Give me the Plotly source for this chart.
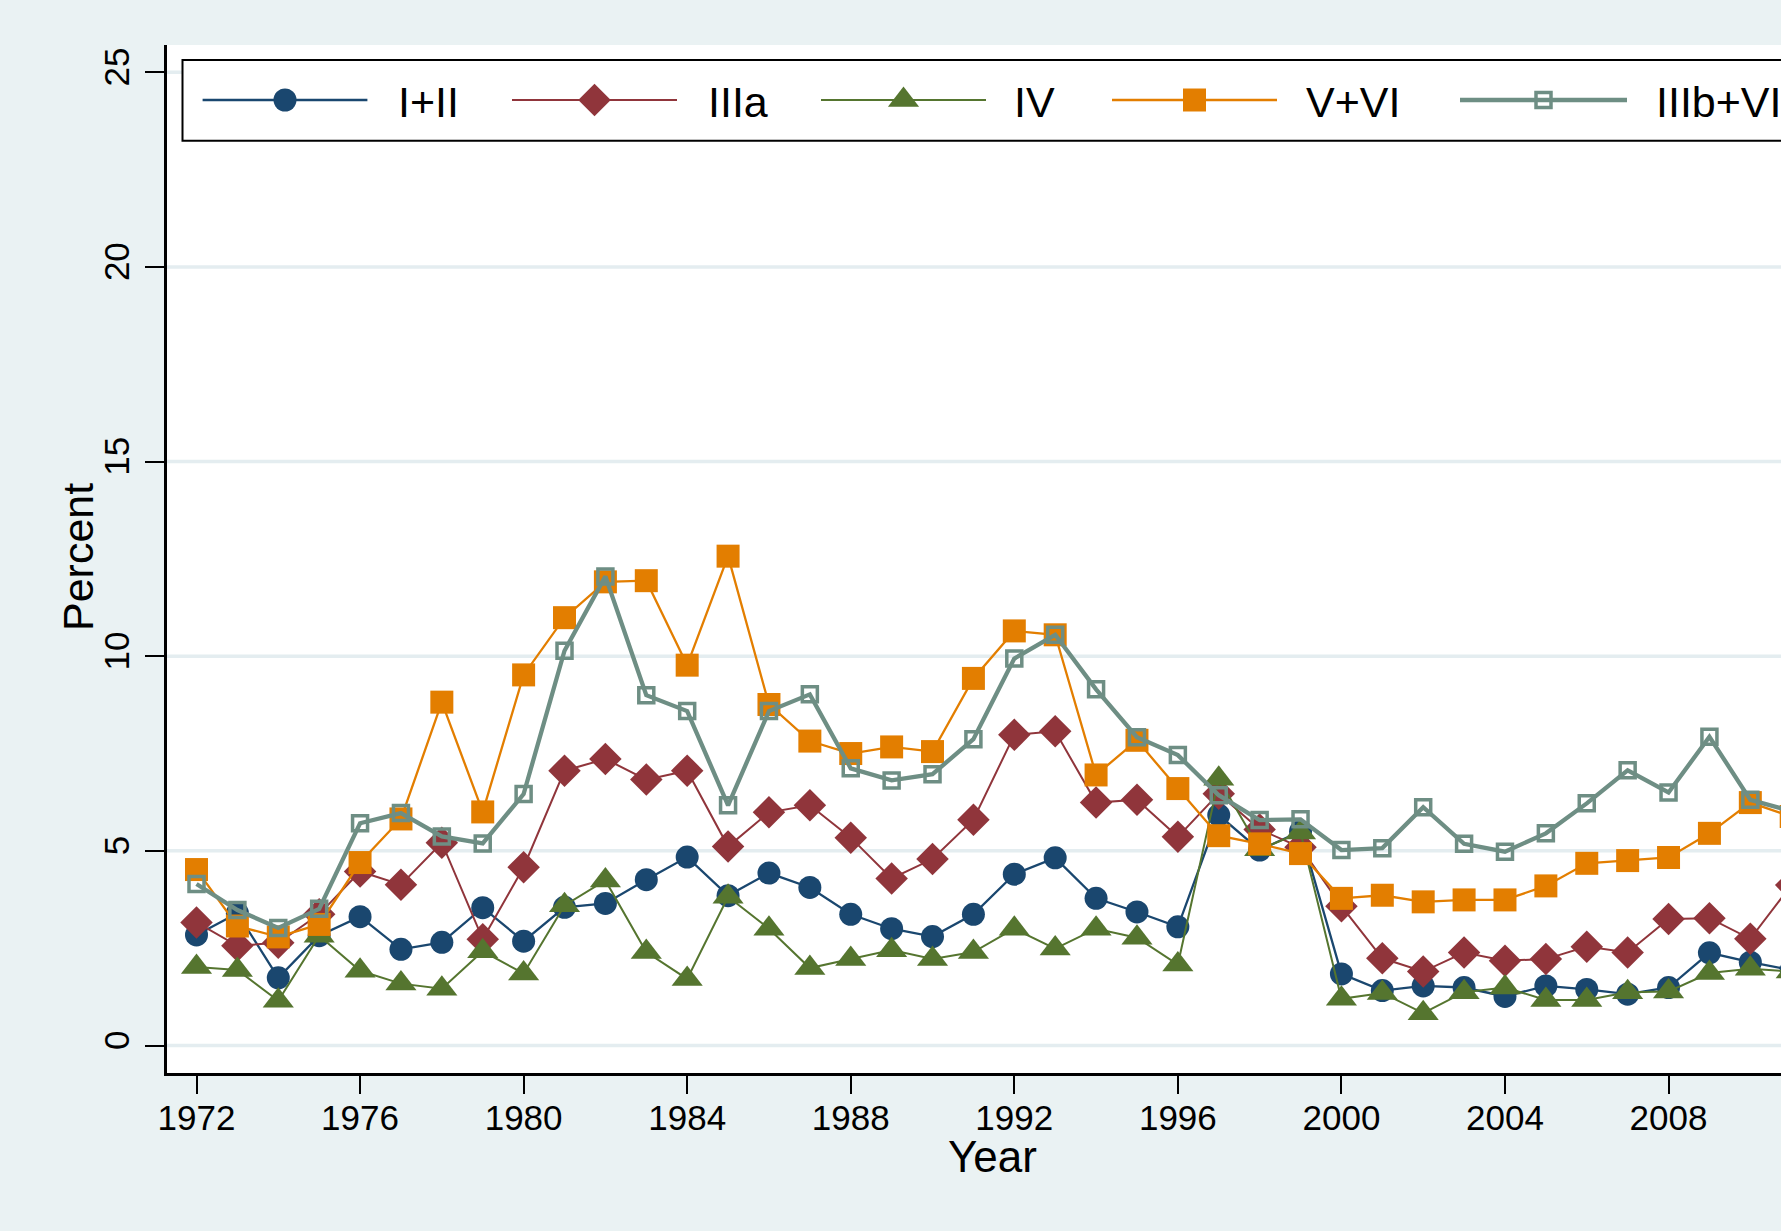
import plotly.graph_objects as go

# ---------------- data ----------------
years = list(range(1972, 2012))

s_I_II = [2.84, 3.40, 1.74, 2.82, 3.31, 2.47, 2.65, 3.54, 2.68, 3.55,
          3.65, 4.26, 4.84, 3.85, 4.43, 4.06, 3.37, 3.00, 2.80, 3.37,
          4.40, 4.82, 3.78, 3.43, 3.05, 5.92, 5.02, 5.50, 1.84, 1.41,
          1.53, 1.49, 1.26, 1.53, 1.44, 1.32, 1.49, 2.38, 2.14, 1.94]
s_IIIa = [3.16, 2.56, 2.64, 3.37, 4.47, 4.13, 5.21, 2.73, 4.58, 7.06,
          7.36, 6.83, 7.06, 5.11, 5.99, 6.17, 5.34, 4.29, 4.79, 5.80,
          7.98, 8.07, 6.24, 6.31, 5.36, 6.47, 5.55, 5.09, 3.58, 2.24,
          1.90, 2.39, 2.18, 2.22, 2.54, 2.39, 3.25, 3.27, 2.74, 4.12]
s_IV = [2.02, 1.94, 1.15, 2.82, 1.92, 1.59, 1.46, 2.42, 1.85, 3.60,
        4.24, 2.40, 1.71, 3.82, 3.00, 1.99, 2.22, 2.45, 2.22, 2.40,
        3.00, 2.49, 3.00, 2.77, 2.08, 6.85, 5.04, 5.47, 1.20, 1.35,
        0.83, 1.37, 1.49, 1.17, 1.17, 1.37, 1.39, 1.86, 1.97, 1.90]
s_V_VI = [4.52, 3.07, 2.79, 3.11, 4.70, 5.82, 8.82, 6.00, 9.52, 10.99,
          11.91, 11.94, 9.77, 12.57, 8.76, 7.82, 7.50, 7.67, 7.55, 9.43,
          10.65, 10.55, 6.95, 7.84, 6.60, 5.39, 5.18, 4.93, 3.78, 3.86,
          3.69, 3.74, 3.74, 4.10, 4.68, 4.75, 4.83, 5.45, 6.24, 5.88]
s_IIIb_VII = [4.15, 3.48, 3.02, 3.51, 5.71, 5.97, 5.37, 5.19, 6.46, 10.14,
              12.05, 9.00, 8.59, 6.17, 8.59, 9.02, 7.12, 6.81, 6.97, 7.87,
              9.94, 10.55, 9.15, 7.92, 7.46, 6.43, 5.79, 5.81, 5.02, 5.07,
              6.12, 5.18, 4.98, 5.45, 6.22, 7.07, 6.50, 7.93, 6.31, 6.02]

labels = ["I+II", "IIIa", "IV", "V+VI", "IIIb+VII"]
series = [s_I_II, s_IIIa, s_IV, s_V_VI, s_IIIb_VII]

y_ticks = [0, 5, 10, 15, 20, 25]
x_tick0, x_dtick = 1972, 4

# ---------------- styles ----------------
colors = ["#1A476F", "#90353B", "#55752F", "#E37E00", "#6E8E84"]
symbols = ["circle", "diamond", "triangle-up", "square", "square-open"]
msizes = [23, 25, 27, 23, 15]
lwidths = [2.3, 2.0, 2.0, 2.3, 4.3]

FONT = "Liberation Sans, Arial, Helvetica, sans-serif"
BG = "#EAF2F3"
GRID = "#E4EDF0"

W, H = 1781, 1231
L, T = 167, 45
PW, PH = W - L, 1073 - 45
B = H - T - PH

# pixel-to-value mapping derived from the picture
x_range = [1971.2786, 2010.7503]
y_range = [-0.706, 25.70]


def pxx(px):
    return (px - L) / PW


def pxy(py):
    return (T + PH - py) / PH


fig = go.Figure()

# horizontal grid lines (below everything)
for v in y_ticks:
    fig.add_shape(type="line", xref="paper", yref="y", x0=0, x1=1, y0=v, y1=v,
                  line=dict(color=GRID, width=3.5), layer="below")

# legend frame (covers the grid, below the data)
fig.add_shape(type="rect", xref="paper", yref="paper", x0=pxx(182.5), x1=1.05,
              y0=pxy(140.7), y1=pxy(60), line=dict(color="black", width=2),
              fillcolor="white", layer="below")

for lab, ys, c, sym, ms, lw in zip(labels, series, colors, symbols, msizes, lwidths):
    mk = dict(symbol=sym, size=ms, color=c)
    if sym.endswith("open"):
        mk["line"] = dict(color=c, width=3.5)
    else:
        mk["line"] = dict(width=0)
    fig.add_trace(go.Scatter(
        x=years, y=ys, mode="lines+markers", name=lab,
        line=dict(color=c, width=lw), marker=mk, showlegend=False,
        cliponaxis=True,
    ))

# ---------------- manual legend (pixel layout on overlay axes) ----------------
leg_y = 100
leg_items = [  # line start, line end, text start (pixels)
    (202.6, 367.4, 396),
    (512, 677, 706),
    (821, 986, 1012),
    (1112, 1277, 1304),
    (1460, 1627, 1654),
]
for (x0, x1, tx), lab, c, sym, ms, lw in zip(leg_items, labels, colors, symbols, msizes, lwidths):
    mk = dict(symbol=sym, size=ms, color=c)
    if sym.endswith("open"):
        mk["line"] = dict(color=c, width=3.5)
    else:
        mk["line"] = dict(width=0)
    fig.add_trace(go.Scatter(
        x=[x0, x1], y=[leg_y, leg_y], xaxis="x2", yaxis="y2",
        mode="lines", line=dict(color=c, width=lw), showlegend=False,
        hoverinfo="skip"))
    fig.add_trace(go.Scatter(
        x=[(x0 + x1) / 2], y=[leg_y], xaxis="x2", yaxis="y2",
        mode="markers", marker=mk, showlegend=False, hoverinfo="skip"))
    fig.add_annotation(x=pxx(tx), y=pxy(leg_y + 2), xref="paper", yref="paper",
                       text=lab, showarrow=False, xanchor="left", yanchor="middle",
                       font=dict(family=FONT, size=43, color="black"))

# axis titles
fig.add_annotation(x=pxx(993), y=pxy(1156), xref="paper", yref="paper",
                   text="Year", showarrow=False, xanchor="center", yanchor="middle",
                   font=dict(family=FONT, size=44, color="black"))
fig.add_annotation(x=pxx(78), y=pxy(557), xref="paper", yref="paper",
                   text="Percent", showarrow=False, xanchor="center", yanchor="middle",
                   textangle=-90, font=dict(family=FONT, size=43, color="black"))

fig.update_layout(
    width=W, height=H,
    margin=dict(l=L, r=0, t=T, b=B, pad=0),
    paper_bgcolor=BG, plot_bgcolor="white",
    font=dict(family=FONT, color="black"),
    showlegend=False,
    xaxis=dict(range=x_range, tick0=x_tick0, dtick=x_dtick, showgrid=False,
               zeroline=False, showline=True, linecolor="black", linewidth=2.5,
               ticks="outside", ticklen=18, tickwidth=2, tickcolor="black",
               tickfont=dict(family=FONT, size=35, color="black"),
               ticklabelstandoff=-6),
    yaxis=dict(range=y_range, tickvals=y_ticks, showgrid=False,
               zeroline=False, showline=True, linecolor="black",
               linewidth=2.5, ticks="outside", ticklen=19, tickwidth=2,
               tickcolor="black", tickangle=-90,
               tickfont=dict(family=FONT, size=35, color="black"),
               ticklabelstandoff=2),
    xaxis2=dict(overlaying="x", range=[L, L + PW], visible=False, fixedrange=True),
    yaxis2=dict(overlaying="y", range=[T + PH, T], visible=False, fixedrange=True),
)

fig.write_html("out.html",
               config={"displayModeBar": False},
               post_script="document.body.style.margin='0';"
                           "document.body.style.overflow='hidden';")
